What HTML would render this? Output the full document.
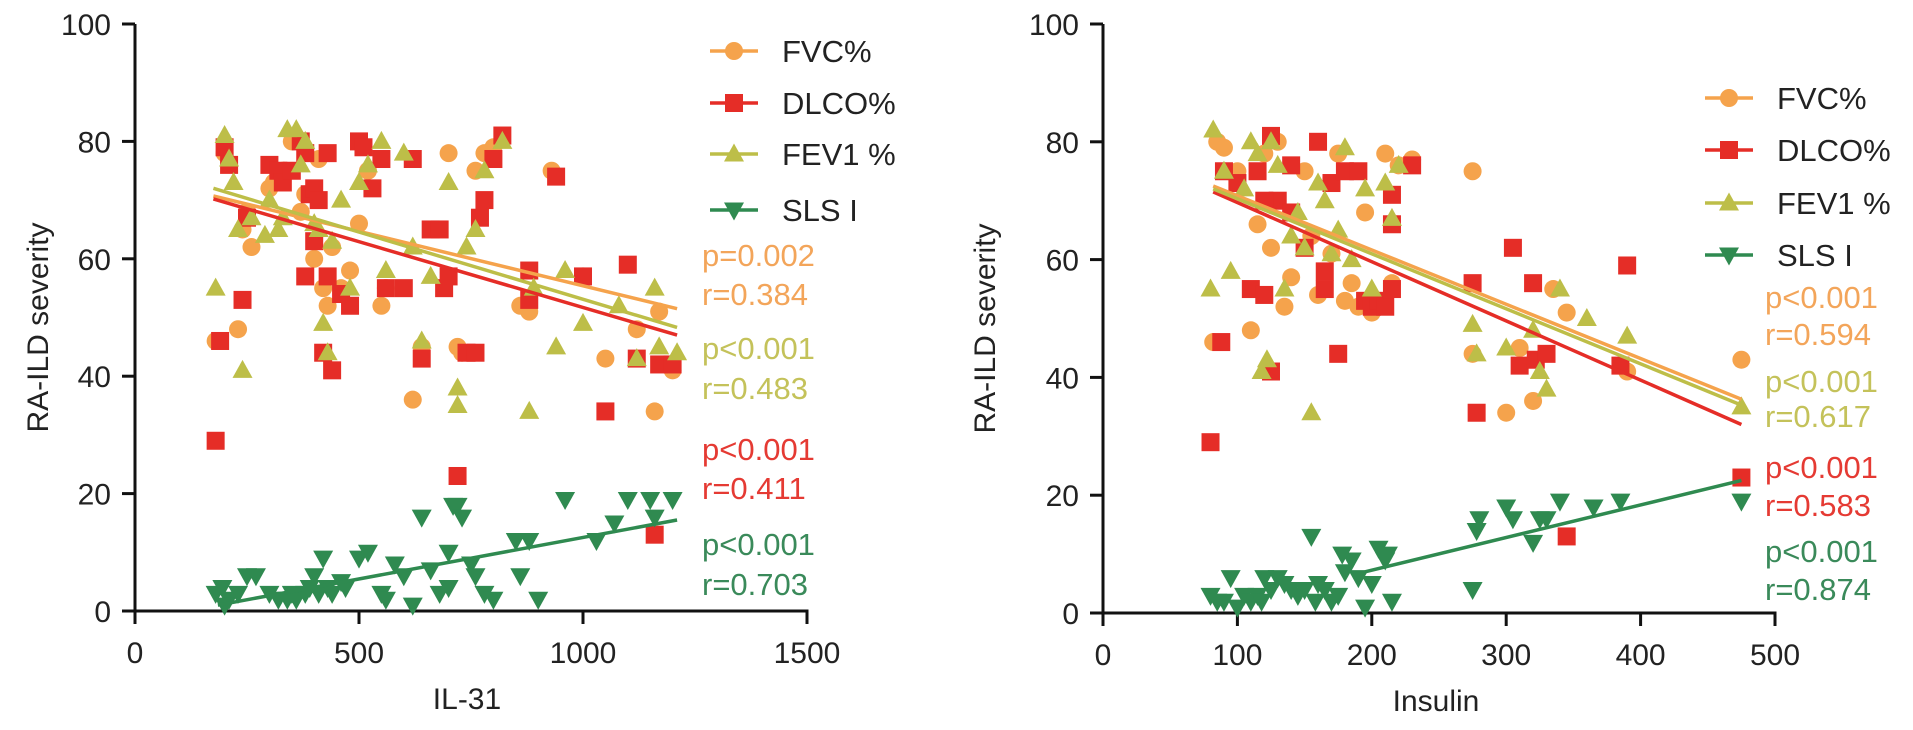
<!DOCTYPE html>
<html><head><meta charset="utf-8"><style>
html,body{margin:0;padding:0;background:#fff;}
svg{display:block;font-family:"Liberation Sans",sans-serif;}
</style></head><body>
<svg id="chart" width="1913" height="730" viewBox="0 0 1913 730" xmlns="http://www.w3.org/2000/svg"></svg>
<script>
// ---------- data ----------
const leftXTicks = [0, 500, 1000, 1500];
const rightXTicks = [0, 100, 200, 300, 400, 500];
const yTicks = [0, 20, 40, 60, 80, 100];
const seriesNames = ["FVC%", "DLCO%", "FEV1 %", "SLS I"];
const leftStats = ["p=0.002", "r=0.384", "p<0.001", "r=0.483", "p<0.001", "r=0.411", "p<0.001", "r=0.703"];
const rightStats = ["p<0.001", "r=0.594", "p<0.001", "r=0.617", "p<0.001", "r=0.583", "p<0.001", "r=0.874"];

const leftFvcX = [180,200,230,240,260,300,330,370,400,420,430,440,480,500,520,550,560,620,640,700,720,730,760,780,800,860,880,930,1000,1050,1120,1160,1170,1200,250,350,310,380,410,460];
const leftFvcY = [46,78,48,65,62,72,75,68,60,55,52,62,58,66,75,52,55,36,45,78,45,44,75,78,79,52,51,75,57,43,48,34,51,41,68,80,73,71,77,55];
const leftDlcoX = [180,190,200,210,250,240,300,320,330,350,370,380,390,400,410,420,430,440,430,460,480,500,510,530,550,560,620,640,660,680,690,700,720,740,760,770,780,800,820,880,880,940,1000,1050,1100,1120,1160,1170,1200,400,380,600];
const leftDlcoY = [29,46,79,76,67,53,76,75,73,75,80,78,71,72,70,44,57,41,78,54,52,80,79,72,77,55,77,43,65,65,55,57,23,44,44,67,70,77,81,58,53,74,57,34,59,43,13,42,42,63,57,55];
const leftFevX = [180,200,210,220,230,240,260,290,300,320,340,360,370,380,400,410,420,430,440,460,480,500,520,550,560,620,640,660,700,720,720,740,760,780,820,880,890,940,960,1000,1080,1120,1160,1170,1210,600,330];
const leftFevY = [55,81,77,73,65,41,67,64,70,65,82,82,76,80,66,65,49,44,63,70,55,73,76,80,58,62,46,57,73,38,35,62,65,75,80,34,55,45,58,49,52,43,55,45,44,78,67];
const leftSlsX = [180,195,210,230,250,270,300,320,340,360,380,390,400,410,420,430,440,460,470,500,520,550,560,580,600,620,640,660,680,700,700,710,720,730,750,760,780,800,850,860,880,900,960,1030,1070,1100,1150,1160,1200,200,350];
const leftSlsY = [3,4,2,3,6,6,3,2,2,2,3,4,6,3,9,4,3,5,4,9,10,3,2,8,6,1,16,7,3,4,10,18,18,16,8,6,3,2,12,6,12,2,19,12,15,19,19,16,19,1,3];

const rightFvcX = [82,85,90,100,110,115,120,125,135,140,150,155,160,170,175,180,190,195,200,205,210,215,220,275,275,300,310,320,335,345,390,475,130,185,230];
const rightFvcY = [46,80,79,75,48,66,78,62,52,57,75,64,54,61,78,53,52,68,51,53,78,56,76,75,44,34,45,36,55,51,41,43,80,56,77];
const rightDlcoX = [80,88,90,100,110,115,120,125,125,130,140,150,160,165,165,170,175,180,190,195,200,205,210,215,215,215,230,275,278,305,310,320,322,330,345,385,390,475,140,120];
const rightDlcoY = [29,46,75,73,55,75,54,41,81,70,68,62,80,55,58,73,44,75,75,53,52,53,52,55,71,66,76,56,34,62,42,56,43,44,13,42,59,23,76,70];
const rightFevX = [80,82,90,95,105,115,118,122,125,130,135,140,150,155,160,165,170,175,180,185,195,200,210,215,220,275,278,300,320,325,330,340,360,390,475,110,145];
const rightFevY = [55,82,75,58,72,78,41,43,80,76,55,64,62,34,73,70,61,65,79,60,72,55,73,67,76,49,44,45,48,41,38,55,50,47,35,80,68];
const rightSlsX = [80,85,90,95,100,105,110,115,118,120,125,130,135,140,145,150,155,158,160,165,170,175,178,180,185,190,195,200,205,210,212,215,275,278,280,300,305,320,325,330,340,365,385,475];
const rightSlsY = [3,2,2,6,1,3,2,3,2,6,4,6,5,4,3,4,13,2,5,4,2,3,10,7,9,6,1,5,11,9,10,2,4,14,16,18,16,12,16,16,19,18,19,19];

// regression line endpoints (x0,y0,x1,y1) in data units
const leftFvcFit = [175, 70.7, 1210, 51.5];
const leftDlcoFit = [175, 70.2, 1210, 47];
const leftFevFit = [175, 72, 1210, 48.3];
const leftSlsFit = [185, 1, 1210, 15.5];
const rightFvcFit = [82, 72.5, 475, 36.3];
const rightDlcoFit = [82, 71.5, 475, 32];
const rightFevFit = [82, 72, 475, 35.3];
const rightSlsFit = [195, 7, 475, 22.5];

// ---------- rendering ----------
const NS = "http://www.w3.org/2000/svg";
const svg = document.getElementById("chart");
const COLORS = ["#F5A34C", "#E52D27", "#BDBE48", "#2F8A50"];
const TEXTC = ["#F3A55A", "#C4C25A", "#E53A33", "#3A8A5A"];

function mk(tag, attrs, parent) {
  const e = document.createElementNS(NS, tag);
  for (const k in attrs) e.setAttribute(k, attrs[k]);
  (parent || svg).appendChild(e);
  return e;
}

function makePanel(cfg) {
  const g = mk("g", {});
  
  
  const sx = v => cfg.x0 + (v / cfg.xmax) * (cfg.x1 - cfg.x0);
  const sy = v => cfg.y0 - (v / 100) * (cfg.y0 - cfg.y100);

  const yAxis = mk("line", {x1: cfg.x0, y1: cfg.y0 + 1.5, x2: cfg.x0, y2: cfg.y100, stroke: "#111", "stroke-width": 3}, g);
  
  
  const xAxis = mk("line", {x1: cfg.x0 - 1.5, y1: cfg.y0, x2: cfg.x1 + 1.5, y2: cfg.y0, stroke: "#111", "stroke-width": 3}, g);
  
  

  yTicks.forEach(t => {
    const y = sy(t);
    const tk = mk("line", {x1: cfg.x0 - 13, y1: y, x2: cfg.x0, y2: y, stroke: "#111", "stroke-width": 3}, g);
    
    
    const tx = mk("text", {x: cfg.x0 - 24, y: y + 11, "text-anchor": "end", "font-size": 30, fill: "#222"}, g);
    tx.textContent = t;
    
    
  });
  cfg.xticks.forEach(t => {
    const x = sx(t);
    const tk = mk("line", {x1: x, y1: cfg.y0, x2: x, y2: cfg.y0 + 13, stroke: "#111", "stroke-width": 3}, g);
    
    
    const tx = mk("text", {x: x, y: cfg.y0 + 52, "text-anchor": "middle", "font-size": 30, fill: "#222"}, g);
    tx.textContent = t;
    
    
  });

  const xt = mk("text", {x: cfg.xTitleX, y: cfg.y0 + 98, "text-anchor": "middle", "font-size": 30, fill: "#222"}, g);
  xt.textContent = cfg.xTitle;
  
  
  const yt = mk("text", {x: 0, y: 0, "text-anchor": "middle", "font-size": 30, fill: "#222",
    transform: `translate(${cfg.yTitleX},${(cfg.y0 + cfg.y100) / 2 + 10}) rotate(-90)`}, g);
  yt.textContent = "RA-ILD severity";
  
  

  function marker(kind, cx, cy, color, parent) {
    let e;
    if (kind === 0) e = mk("circle", {cx: cx, cy: cy, r: 9, fill: color}, parent);
    else if (kind === 1) e = mk("rect", {x: cx - 9, y: cy - 9, width: 18, height: 18, fill: color}, parent);
    else if (kind === 2) e = mk("polygon", {points: `${cx},${cy - 10.5} ${cx - 10},${cy + 7.5} ${cx + 10},${cy + 7.5}`, fill: color}, parent);
    else e = mk("polygon", {points: `${cx},${cy + 10.5} ${cx - 10},${cy - 7.5} ${cx + 10},${cy - 7.5}`, fill: color}, parent);
    return e;
  }

  const names = ["fvc", "dlco", "fev1", "sls"];
  cfg.series.forEach((s, i) => {
    const sg = mk("g", {}, g);
    
    
    s[0].forEach((xv, j) => {
      const m = marker(i, sx(xv), sy(s[1][j]), COLORS[i], sg);
      
      
    });
  });
  cfg.fits.forEach((f, i) => {
    const l = mk("line", {x1: sx(f[0]), y1: sy(f[1]), x2: sx(f[2]), y2: sy(f[3]), stroke: COLORS[i], "stroke-width": 3.5}, g);
    
    
  });

  cfg.legendY.forEach((ly, i) => {
    const lg = mk("g", {}, g);
    
    
    mk("line", {x1: cfg.legendX, y1: ly, x2: cfg.legendX + 48, y2: ly, stroke: COLORS[i], "stroke-width": 3.5}, lg);
    marker(i, cfg.legendX + 24, ly, COLORS[i], lg);
    const t = mk("text", {x: cfg.legendX + 72, y: ly + 11, "font-size": 31, fill: "#222"}, lg);
    t.textContent = seriesNames[i];
  });
  cfg.stats.forEach((s, i) => {
    const t = mk("text", {x: cfg.statX, y: cfg.statY[i] + 11, "font-size": 31, fill: TEXTC[Math.floor(i / 2)]}, g);
    t.textContent = s;
    
    
  });
}

makePanel({
  name: "il31-panel", x0: 135, x1: 807, xmax: 1500, y0: 611, y100: 24, xticks: leftXTicks,
  xTitle: "IL-31", xTitleX: 467, yTitleX: 48,
  series: [[leftFvcX, leftFvcY], [leftDlcoX, leftDlcoY], [leftFevX, leftFevY], [leftSlsX, leftSlsY]],
  fits: [leftFvcFit, leftDlcoFit, leftFevFit, leftSlsFit],
  legendX: 710, legendY: [51, 103, 154, 210],
  stats: leftStats, statX: 702, statY: [255, 294, 348, 388, 449, 488, 544, 584]
});
makePanel({
  name: "insulin-panel", x0: 1103, x1: 1775, xmax: 500, y0: 613, y100: 24, xticks: rightXTicks,
  xTitle: "Insulin", xTitleX: 1436, yTitleX: 995,
  series: [[rightFvcX, rightFvcY], [rightDlcoX, rightDlcoY], [rightFevX, rightFevY], [rightSlsX, rightSlsY]],
  fits: [rightFvcFit, rightDlcoFit, rightFevFit, rightSlsFit],
  legendX: 1705, legendY: [98, 150, 203, 255],
  stats: rightStats, statX: 1765, statY: [297, 334, 381, 416, 467, 505, 551, 589]
});
</script>
</body></html>
